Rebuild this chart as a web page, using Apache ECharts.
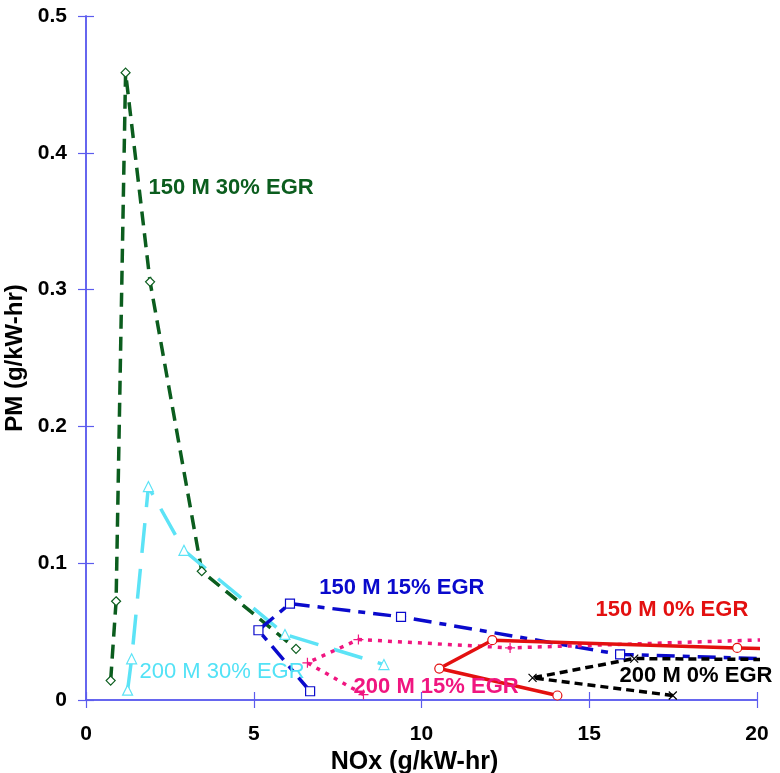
<!DOCTYPE html>
<html>
<head>
<meta charset="utf-8">
<script src="https://cdn.jsdelivr.net/npm/echarts@6/dist/echarts.min.js"></script>
<style>
  html, body { margin: 0; padding: 0; background: #fff; }
  #chart { width: 780px; height: 773px; }
</style>
</head>
<body>
<div id="chart"></div>
<script>
// NOx / PM trade-off for the 150 M and 200 M cases at several EGR rates.
// Points beyond NOx = 20 continue the curves past the plotted range.
const nox150_30 = [0.735, 0.897, 1.18, 1.91, 3.45, 6.26];
const pm150_30  = [0.0142, 0.0722, 0.4586, 0.3057, 0.0941, 0.0374];

const nox200_30 = [1.24, 1.36, 1.86, 2.92, 5.93, 8.88];
const pm200_30  = [0.0072, 0.0301, 0.156, 0.1094, 0.0479, 0.0259];

const nox150_15 = [6.68, 5.14, 6.08, 9.39, 15.92, 22];
const pm150_15  = [0.0064, 0.051, 0.0705, 0.0608, 0.0333, 0.0288];

const nox200_15 = [8.27, 6.6, 8.12, 12.64, 22];
const pm200_15  = [0.004, 0.0272, 0.0442, 0.0381, 0.0454];

const nox150_0 = [14.05, 10.53, 12.11, 19.41, 22];
const pm150_0  = [0.0033, 0.023, 0.0437, 0.0381, 0.0361];

const nox200_0 = [17.49, 13.31, 16.34, 22];
const pm200_0  = [0.0033, 0.0162, 0.0303, 0.0293];

const xTicks = [0, 5, 10, 15, 20];
const yTicks = [0, 0.1, 0.2, 0.3, 0.4, 0.5];

// curve captions, anchored at their left edge in data units
const captionText = ['150 M 30% EGR', '150 M 15% EGR', '150 M 0% EGR', '200 M 0% EGR', '200 M 15% EGR', '200 M 30% EGR'];
const captionX = [1.85, 6.94, 15.17, 15.89, 7.96, 1.58];
const captionY = [0.3744, 0.0822, 0.0661, 0.0179, 0.0099, 0.0208];

const FONT = '"Liberation Sans", Arial, Helvetica, sans-serif';
const FRAME = '#5c5cee';

const colors = {
  g: '#0b5d1e', c: '#5ce3f6', b: '#0a0acc', p: '#f01680', r: '#e31010', k: '#000000'
};
const captionColor = [colors.g, colors.b, colors.r, colors.k, colors.p, '#52e2f6'];
const captionWeight = ['bold', 'bold', 'bold', 'bold', 'bold', 'normal'];

const PLUS = 'path://M0,5L10,5M5,0L5,10';
const CROSS = 'path://M0,0L10,10M10,0L0,10';

function pairs(xs, ys) { return xs.map((x, i) => [x, ys[i]]); }

function curve(name, xs, ys, color, type, symbol, size) {
  return {
    name: name,
    type: 'line',
    data: pairs(xs, ys),
    clip: true,
    symbol: symbol,
    symbolSize: size,
    showAllSymbol: true,
    lineStyle: { color: color, width: 3.5, type: type, cap: 'butt' },
    itemStyle: { color: '#ffffff', borderColor: color, borderWidth: 1.2 },
    emphasis: { disabled: true },
    z: 3
  };
}

const series = [
  curve('150 M 30% EGR', nox150_30, pm150_30, colors.g, [14, 8], 'diamond', 9),
  curve('200 M 30% EGR', nox200_30, pm200_30, colors.c, [30, 16], 'triangle', 10),
  curve('150 M 15% EGR', nox150_15, pm150_15, colors.b, [18, 8, 7, 8], 'rect', 9),
  curve('200 M 15% EGR', nox200_15, pm200_15, colors.p, [4, 6], PLUS, 10),
  curve('150 M 0% EGR',  nox150_0,  pm150_0,  colors.r, 'solid', 'circle', 9),
  curve('200 M 0% EGR',  nox200_0,  pm200_0,  colors.k, [8, 5], CROSS, 8)
];

series.push({
  type: 'scatter',
  symbolSize: 1,
  itemStyle: { color: '#ffffff', opacity: 1 },
  emphasis: { disabled: true },
  silent: true,
  z: 10,
  data: captionText.map((t, i) => ({
    value: [captionX[i], captionY[i]],
    label: {
      show: true,
      formatter: t,
      position: 'right',
      distance: 0,
      opacity: 1,
      color: captionColor[i],
      textBorderWidth: 0,
      fontWeight: captionWeight[i],
      fontSize: 22,
      fontFamily: FONT
    }
  }))
});

const tickLabel = { fontSize: 21, fontWeight: 'bold', color: '#000', fontFamily: FONT };

const chart = echarts.init(document.getElementById('chart'), null, { renderer: 'canvas' });
chart.setOption({
  animation: false,
  backgroundColor: '#ffffff',
  grid: { left: 86, right: 23, top: 16, bottom: 73, containLabel: false, outerBoundsMode: 'none' },
  xAxis: [{
    type: 'value', min: xTicks[0], max: xTicks[xTicks.length - 1], interval: xTicks[1] - xTicks[0],
    name: 'NOx (g/kW-hr)', nameLocation: 'middle', nameGap: 40,
    nameTextStyle: { fontSize: 25, fontWeight: 'bold', color: '#000', fontFamily: FONT, padding: [0, 14, 0, 0] },
    axisLine: { show: true, lineStyle: { color: FRAME, width: 1.5 } },
    axisTick: { show: true, inside: true, length: 8, lineStyle: { color: FRAME, width: 1.2 } },
    axisLabel: Object.assign({ margin: 24 }, tickLabel),
    splitLine: { show: false }
  }, {
    type: 'value', position: 'top', min: xTicks[0], max: xTicks[xTicks.length - 1], interval: xTicks[1] - xTicks[0],
    axisLine: { show: true, lineStyle: { color: FRAME, width: 1.5 } },
    axisTick: { show: true, inside: true, length: 8, lineStyle: { color: FRAME, width: 1.2 } },
    axisLabel: { show: false },
    splitLine: { show: false }
  }],
  yAxis: [{
    type: 'value', min: yTicks[0], max: yTicks[yTicks.length - 1], interval: yTicks[1] - yTicks[0],
    name: 'PM (g/kW-hr)', nameLocation: 'middle', nameGap: 54, nameRotate: 90,
    nameTextStyle: { fontSize: 24, fontWeight: 'bold', color: '#000', fontFamily: FONT },
    axisLine: { show: true, lineStyle: { color: FRAME, width: 1.5 } },
    axisTick: { show: true, inside: true, length: 8, lineStyle: { color: FRAME, width: 1.2 } },
    axisLabel: Object.assign({ margin: 19 }, tickLabel),
    splitLine: { show: false }
  }, {
    type: 'value', position: 'right', min: yTicks[0], max: yTicks[yTicks.length - 1], interval: yTicks[1] - yTicks[0],
    axisLine: { show: true, lineStyle: { color: FRAME, width: 1.5 } },
    axisTick: { show: true, inside: true, length: 8, lineStyle: { color: FRAME, width: 1.2 } },
    axisLabel: { show: false },
    splitLine: { show: false }
  }],
  series: series
});
</script>
</body>
</html>
